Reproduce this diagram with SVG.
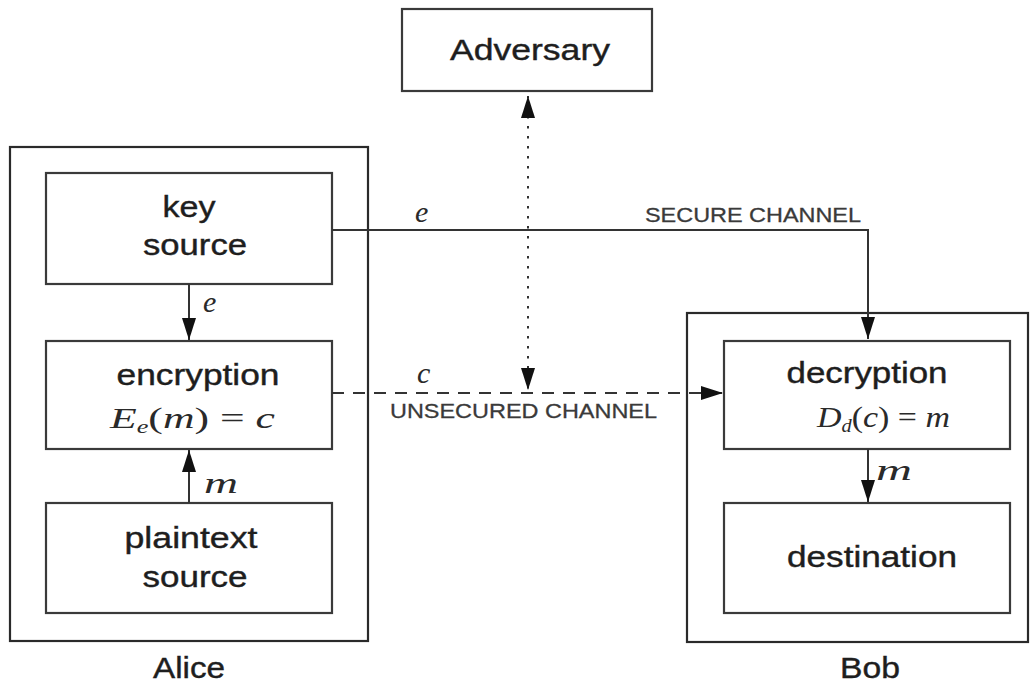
<svg xmlns="http://www.w3.org/2000/svg" width="1032" height="685" viewBox="0 0 1032 685">
  <defs>
    <marker id="arrow" viewBox="0 0 22 14" markerWidth="22" markerHeight="14" refX="22" refY="7" orient="auto-start-reverse" markerUnits="userSpaceOnUse">
      <path d="M0,0 L22,7 L0,14 z" fill="#111"/>
    </marker>
    <style>
      .box { fill: #fff; stroke: #3a3a3a; stroke-width: 2.2; }
      .frame { fill: none; stroke: #2a2a2a; stroke-width: 2.2; }
      .label { font-family: "Liberation Sans", Arial, sans-serif; font-size: 29px; fill: #1e1e1e; stroke: #1e1e1e; stroke-width: 0.4; text-anchor: middle; }
      .chan { font-family: "Liberation Sans", Arial, sans-serif; font-size: 21px; fill: #3a3a3a; stroke: #3a3a3a; stroke-width: 0.3; }
      .math { font-family: "Liberation Serif", "Times New Roman", serif; font-size: 30px; fill: #2a2a2a; }
      .var { font-style: italic; }
      .line { fill: none; stroke: #333; stroke-width: 2; }
    </style>
  </defs>
  <rect width="1032" height="685" fill="#fff"/>

  <!-- Alice's side -->
  <g id="alice">
    <rect class="frame" x="10" y="147" width="358" height="494"/>
    <text class="label" x="189" y="678" textLength="72" lengthAdjust="spacingAndGlyphs">Alice</text>
  </g>
  <g id="key-source">
    <rect class="box" x="46" y="173" width="286" height="111"/>
    <text class="label" x="189" y="217" textLength="53" lengthAdjust="spacingAndGlyphs">key</text>
    <text class="label" x="195" y="255" textLength="104" lengthAdjust="spacingAndGlyphs">source</text>
  </g>
  <g id="encryption">
    <rect class="box" x="46" y="341" width="286" height="108"/>
    <text class="label" x="198" y="385" textLength="163" lengthAdjust="spacingAndGlyphs">encryption</text>
    <text class="math" x="110" y="428" textLength="165" lengthAdjust="spacingAndGlyphs"><tspan class="var">E</tspan><tspan class="var" font-size="18" dy="5">e</tspan><tspan dy="-5">(</tspan><tspan class="var">m</tspan>) = <tspan class="var">c</tspan></text>
  </g>
  <g id="plaintext-source">
    <rect class="box" x="46" y="503" width="286" height="110"/>
    <text class="label" x="191" y="548" textLength="133" lengthAdjust="spacingAndGlyphs">plaintext</text>
    <text class="label" x="195" y="587" textLength="105" lengthAdjust="spacingAndGlyphs">source</text>
  </g>

  <!-- Adversary -->
  <g id="adversary">
    <rect class="box" x="402" y="9" width="250" height="82"/>
    <text class="label" x="530" y="60" textLength="160" lengthAdjust="spacingAndGlyphs">Adversary</text>
  </g>

  <!-- Bob's side -->
  <g id="bob">
    <rect class="frame" x="687" y="313" width="341" height="329"/>
    <text class="label" x="870" y="678" textLength="60" lengthAdjust="spacingAndGlyphs">Bob</text>
  </g>
  <g id="decryption">
    <rect class="box" x="724" y="341" width="286" height="108"/>
    <text class="label" x="867" y="383" textLength="161" lengthAdjust="spacingAndGlyphs">decryption</text>
    <text class="math" x="817" y="427" textLength="133" lengthAdjust="spacingAndGlyphs"><tspan class="var">D</tspan><tspan class="var" font-size="18" dy="5">d</tspan><tspan dy="-5">(</tspan><tspan class="var">c</tspan>) = <tspan class="var">m</tspan></text>
  </g>
  <g id="destination">
    <rect class="box" x="724" y="503" width="286" height="110"/>
    <text class="label" x="872" y="567" textLength="170" lengthAdjust="spacingAndGlyphs">destination</text>
  </g>

  <!-- Connectors -->
  <g id="connectors">
    <!-- key source to encryption -->
    <line class="line" x1="189" y1="284" x2="189" y2="340" marker-end="url(#arrow)"/>
    <text class="math var" x="203" y="312" font-size="28">e</text>
    <!-- plaintext source to encryption -->
    <line class="line" x1="189" y1="503" x2="189" y2="450" marker-end="url(#arrow)"/>
    <text class="math var" x="204" y="493" font-size="30" textLength="34" lengthAdjust="spacingAndGlyphs">m</text>
    <!-- secure channel: key source to decryption -->
    <polyline class="line" points="332,230 868,230 868,339" marker-end="url(#arrow)"/>
    <text class="math var" x="415" y="222" font-size="28">e</text>
    <text class="chan" x="645" y="222" textLength="216" lengthAdjust="spacingAndGlyphs">SECURE CHANNEL</text>
    <!-- unsecured channel: encryption to decryption -->
    <line class="line" x1="332" y1="393" x2="723" y2="393" stroke-dasharray="12 9" marker-end="url(#arrow)"/>
    <text class="math var" x="417" y="383" font-size="28">c</text>
    <text class="chan" x="390" y="418" font-size="22" textLength="267" lengthAdjust="spacingAndGlyphs">UNSECURED CHANNEL</text>
    <!-- adversary listening on the channel -->
    <line class="line" x1="528" y1="96" x2="528" y2="390" stroke-width="2.5" stroke-dasharray="2.5 7.5" marker-start="url(#arrow)" marker-end="url(#arrow)"/>
    <!-- decryption to destination -->
    <line class="line" x1="868" y1="449" x2="868" y2="502" marker-end="url(#arrow)"/>
    <text class="math var" x="876" y="480" font-size="30" textLength="36" lengthAdjust="spacingAndGlyphs">m</text>
  </g>
</svg>
